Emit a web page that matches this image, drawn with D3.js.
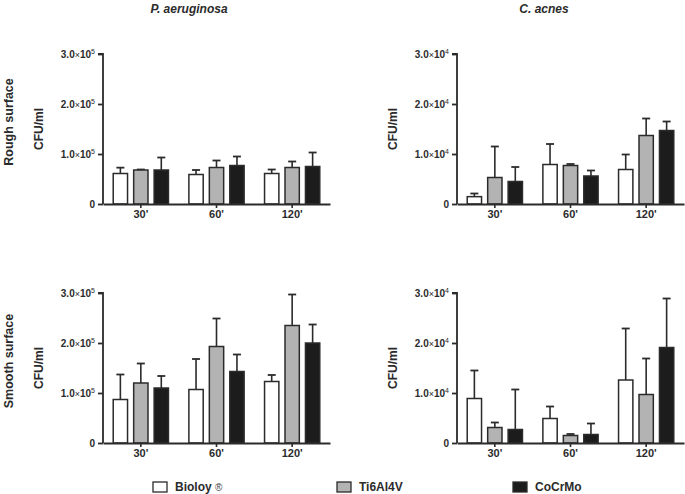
<!DOCTYPE html>
<html>
<head>
<meta charset="utf-8">
<script src="https://cdn.jsdelivr.net/npm/d3@7"></script>
<style>
  body { margin: 0; background: #fff; }
  svg { display: block; font-family: "Liberation Sans", Arial, sans-serif; }
</style>
</head>
<body>
<div class="container"></div>
<script>
// categories
const times = ["30'", "60'", "120'"];
const materials = ["Bioloy \u00AE", "Ti6Al4V", "CoCrMo"];
const species = ["P. aeruginosa", "C. acnes"];
const surfaces = ["Rough surface", "Smooth surface"];

// tick values (in units of 10^exp)
const tickSteps = [0, 1, 2, 3];

// means and upper error (mean + SD), rows = time, cols = material
const paRoughMean = [[61000, 68000, 68000], [59000, 73000, 77000], [61000, 73000, 75000]];
const paRoughErr  = [[72700, 69000, 93000], [68000, 87000, 95000], [69000, 85000, 103000]];
const caRoughMean = [[1470, 5300, 4500], [7900, 7700, 5600], [6900, 13700, 14700]];
const caRoughErr  = [[2100, 11500, 7400], [12000, 8000, 6700], [9900, 17100, 16500]];
const paSmoothMean = [[87000, 120000, 110000], [107000, 193000, 143000], [123000, 235000, 200000]];
const paSmoothErr  = [[137000, 159000, 134000], [168000, 249000, 177000], [136000, 297000, 237000]];
const caSmoothMean = [[8900, 3100, 2700], [4900, 1500, 1700], [12600, 9700, 19100]];
const caSmoothErr  = [[14500, 4100, 10700], [7300, 1800, 3900], [22900, 16900, 28900]];

const fills = ["#ffffff", "#b3b3b3", "#1c1c1c"];
const ink = "#2b2b2b";

const W = 685, H = 494;
const svg = d3.select(".container").append("svg")
    .attr("width", W).attr("height", H);

const panels = [
    {x0: 103, y0: 204, exp: 5, mean: paRoughMean, err: paRoughErr},
    {x0: 457, y0: 204, exp: 4, mean: caRoughMean, err: caRoughErr},
    {x0: 103, y0: 443, exp: 5, mean: paSmoothMean, err: paSmoothErr},
    {x0: 457, y0: 443, exp: 4, mean: caSmoothMean, err: caSmoothErr}
];
const plotW = 227, plotH = 150;

// tick label with ×10^n
function sciLabel(sel, v, exp) {
    if (v === 0) { sel.text("0"); return; }
    sel.append("tspan").text(v.toFixed(1));
    sel.append("tspan").attr("font-weight", "normal").attr("font-size", 9).text("\u00D7");
    sel.append("tspan").text("10");
    sel.append("tspan").attr("font-size", 7).attr("font-weight", "normal").attr("dy", -4).text(exp);
}

panels.forEach(p => {
    const g = svg.append("g");
    const base = Math.pow(10, p.exp);

    const x = d3.scaleBand().domain(times)
        .range([p.x0, p.x0 + plotW]).paddingInner(0.27).paddingOuter(0.135);
    const xm = d3.scaleBand().domain(materials)
        .range([0, x.bandwidth()]).paddingInner(0.3);
    const y = d3.scaleLinear().domain([0, 3 * base]).range([p.y0, p.y0 - plotH]);

    const rows = [];
    times.forEach((t, i) => materials.forEach((m, j) => {
        rows.push({t, m, j, mean: p.mean[i][j], err: p.err[i][j]});
    }));

    // error bars (upper only)
    const eb = g.selectAll(".eb").data(rows).enter().append("g");
    eb.append("line")
        .attr("x1", d => x(d.t) + xm(d.m) + xm.bandwidth() / 2)
        .attr("x2", d => x(d.t) + xm(d.m) + xm.bandwidth() / 2)
        .attr("y1", d => y(d.mean)).attr("y2", d => y(d.err))
        .attr("stroke", ink).attr("stroke-width", 1.6);
    eb.append("line")
        .attr("x1", d => x(d.t) + xm(d.m) + xm.bandwidth() / 2 - 4)
        .attr("x2", d => x(d.t) + xm(d.m) + xm.bandwidth() / 2 + 4)
        .attr("y1", d => y(d.err)).attr("y2", d => y(d.err))
        .attr("stroke", ink).attr("stroke-width", 1.8);

    g.selectAll("rect").data(rows).enter().append("rect")
        .attr("x", d => x(d.t) + xm(d.m))
        .attr("y", d => y(d.mean))
        .attr("width", xm.bandwidth())
        .attr("height", d => p.y0 - y(d.mean))
        .attr("fill", d => fills[d.j])
        .attr("stroke", ink).attr("stroke-width", 1.5);

    // y axis
    const yAxis = g.append("g")
        .attr("transform", `translate(${p.x0},0)`)
        .call(d3.axisLeft(y).tickValues(tickSteps.map(v => v * base)).tickSize(5).tickFormat(""));
    yAxis.select(".domain").attr("stroke", ink).attr("stroke-width", 1.8)
        .attr("d", `M-5,${y(3 * base)}H0V${p.y0}`);
    yAxis.selectAll(".tick line").attr("stroke", ink).attr("stroke-width", 1.8);
    yAxis.selectAll(".tick").append("text")
        .attr("x", -8).attr("dy", "0.35em")
        .attr("text-anchor", "end").attr("fill", ink)
        .attr("font-size", 10).attr("font-weight", "bold")
        .each(function (d) { sciLabel(d3.select(this), d / base, p.exp); });

    // x axis
    const xAxis = g.append("g")
        .attr("transform", `translate(0,${p.y0})`)
        .call(d3.axisBottom(x).tickSize(4).tickSizeOuter(0));
    xAxis.select(".domain").attr("stroke", ink).attr("stroke-width", 1.8);
    xAxis.selectAll(".tick line").attr("stroke", ink).attr("stroke-width", 1.6);
    xAxis.selectAll(".tick text")
        .attr("y", 6).attr("fill", ink)
        .attr("font-size", 11).attr("font-weight", "bold")
        .style("font-family", "Liberation Sans, Arial, sans-serif");

    // y title
    g.append("text")
        .attr("transform", `translate(${p.x0 - 60},${p.y0 - plotH / 2}) rotate(-90)`)
        .attr("text-anchor", "middle").attr("fill", ink)
        .attr("font-size", 12).attr("font-weight", "bold")
        .text("CFU/ml");
});

// column titles
svg.selectAll(".col").data(species).enter().append("text")
    .attr("x", (d, i) => [189, 544][i]).attr("y", 13)
    .attr("text-anchor", "middle").attr("fill", ink)
    .attr("font-size", 12).attr("font-weight", "bold").attr("font-style", "italic")
    .text(d => d);

// row titles
svg.selectAll(".row").data(surfaces).enter().append("text")
    .attr("transform", (d, i) => `translate(13,${[122, 361][i]}) rotate(-90)`)
    .attr("text-anchor", "middle").attr("fill", ink)
    .attr("font-size", 12.5).attr("font-weight", "bold")
    .text(d => d);

// legend
const lx = [153, 337, 513];
const leg = svg.selectAll(".leg").data(materials).enter().append("g")
    .attr("transform", (d, i) => `translate(${lx[i]},482)`);
leg.append("rect").attr("width", 14).attr("height", 10)
    .attr("fill", (d, i) => fills[i]).attr("stroke", ink).attr("stroke-width", 1.3);
leg.append("text").attr("x", 22).attr("y", 5).attr("dy", "0.35em")
    .attr("fill", ink).attr("font-size", 12).attr("font-weight", "bold")
    .each(function (d) {
        const s = d3.select(this);
        if (d.includes("\u00AE")) {
            s.append("tspan").text("Bioloy ");
            s.append("tspan").attr("font-weight", "normal").attr("font-size", 10)
                .attr("fill", "#444").style("font-family", "'Liberation Sans'")
                .style("font-variant-emoji", "text").text("\u00AE\uFE0E");
        } else {
            s.text(d);
        }
    });
</script>
</body>
</html>
